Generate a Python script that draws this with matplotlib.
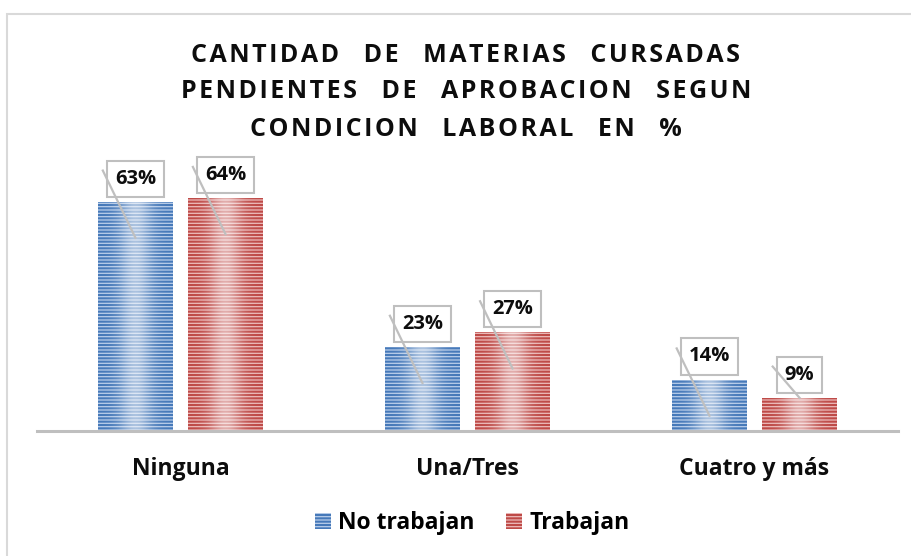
import matplotlib
matplotlib.use('Agg')
import matplotlib.pyplot as plt
import numpy as np
from matplotlib.patches import Rectangle, Patch
from matplotlib.lines import Line2D
from matplotlib.transforms import IdentityTransform

categories = ['Ninguna', 'Una/Tres', 'Cuatro y más']
no_trabajan = [63, 23, 14]
trabajan = [64, 27, 9]
series_names = ['No trabajan', 'Trabajan']
title_lines = ['CANTIDAD DE MATERIAS CURSADAS',
               'PENDIENTES DE APROBACION SEGUN',
               'CONDICION LABORAL EN %']

plt.rcParams['font.family'] = ['Open Sans', 'DejaVu Sans']
plt.rcParams['hatch.linewidth'] = 1.5

W, H = 912, 556
fig = plt.figure(figsize=(W / 100, H / 100), dpi=100)
ax = fig.add_axes([37 / W, (H - 430.5) / H, 861 / W, 280 / H])

x = np.arange(len(categories))
bw = 0.26
off = 0.157
colors = [('#4679B9', '#B8CDEA'), ('#BE4A47', '#ECBAB9')]
bars = []
for i, (vals, (dark, light)) in enumerate(zip([no_trabajan, trabajan], colors)):
    b = ax.bar(x + (off if i else -off), vals, bw, color=light, edgecolor=dark,
               hatch='-----', linewidth=0, zorder=2, label=series_names[i])
    bars.append(b)

ax.set_xlim(-0.5, 2.5)
ax.set_ylim(0, 280 / 3.63)

# light gradient in the middle of each bar
prof = np.linspace(0, 1, 200)
alpha = 0.55 * np.exp(-((prof - 0.5) / 0.22) ** 2)
img = np.ones((1, 200, 4))
img[..., 3] = alpha
for b in bars:
    for p in b:
        im = ax.imshow(img, extent=(p.get_x(), p.get_x() + p.get_width(), 0, p.get_height()),
                       aspect='auto', zorder=3, interpolation='bilinear')
        im.set_clip_path(p)
ax.set_xlim(-0.5, 2.5)
ax.set_ylim(0, 280 / 3.63)

for s in ['left', 'right', 'top']:
    ax.spines[s].set_visible(False)
ax.spines['bottom'].set_color('#BFBFBF')
ax.spines['bottom'].set_linewidth(2.2)
ax.spines['bottom'].set_zorder(4)
ax.set_yticks([])
ax.set_xticks(x, categories, fontsize=16.5, fontweight='bold', color='#0D0D0D')
ax.tick_params(axis='x', length=0, pad=19)

# data labels
anns = []
for b, vals in zip(bars, [no_trabajan, trabajan]):
    for p, v in zip(b, vals):
        xc = p.get_x() + p.get_width() / 2
        a = ax.annotate(f'{v}%', xy=(xc, v), xytext=(0, 9.5), textcoords='offset points',
                        ha='center', va='bottom', fontsize=14.5, fontweight='bold', color='#0D0D0D',
                        bbox=dict(boxstyle='square,pad=0.4', fc='white', ec='#BFBFBF', lw=1.5),
                        zorder=5)
        anns.append((a, xc, v))

fig.canvas.draw()
for a, xc, v in anns:
    bb = a.get_bbox_patch().get_window_extent()
    top = ax.transData.transform((xc, v))
    base = ax.transData.transform((xc, 0))
    hpx = top[1] - base[1]
    end_y = top[1] - 36 if hpx > 45 else top[1]
    ln = Line2D([bb.x0 - 4, top[0]], [bb.y1 - 10, end_y], transform=IdentityTransform(),
                color='#BFBFBF', lw=1.6, zorder=6)
    fig.add_artist(ln)

# title with letter spacing
hs = '\u200a'


def tracked(s):
    return (hs + '   ' + hs).join(hs.join(w) for w in s.split(' '))


for k, line in enumerate(title_lines):
    fig.text(466 / W, 1 - (55 + 37 * k) / H, tracked(line), ha='center', va='center',
             fontsize=18, fontweight='bold', color='#0D0D0D')

# legend
handles = [Patch(facecolor=l, edgecolor=d, hatch='-----', lw=0, label=n)
           for (d, l), n in zip(colors, series_names)]
fig.legend(handles=handles, loc='center', bbox_to_anchor=(472 / W, 1 - 523 / H), ncol=2,
           frameon=False, prop={'size': 16.5, 'weight': 'bold'}, handlelength=0.7,
           handleheight=0.7, columnspacing=1.4, handletextpad=0.3)

# chart border
fig.add_artist(Rectangle((7.5 / W, -0.1), 1.2, (H - 13.5) / H + 0.1, transform=fig.transFigure,
                         fill=False, ec='#D9D9D9', lw=1.5))

fig.savefig('out.png', dpi=100)
